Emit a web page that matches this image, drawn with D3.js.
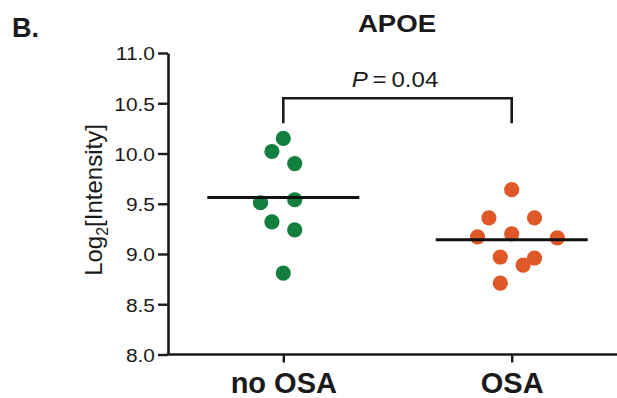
<!DOCTYPE html>
<html>
<head>
<meta charset="utf-8">
<script src="https://cdn.jsdelivr.net/npm/d3@7"></script>
<style>
  html, body { margin: 0; padding: 0; background: #fff; }
  text { font-family: "Liberation Sans", Arial, Helvetica, sans-serif; fill: #1a1a1a; }
</style>
</head>
<body>
<svg id="chart" width="617" height="398"></svg>
<script>
// ---- data ----
const categories = ["no OSA", "OSA"];
const noOsaValues = [10.15, 10.02, 9.90, 9.51, 9.54, 9.32, 9.24, 8.81];
const noOsaSlots  = [0, -1, 1, -2, 1, -1, 1, 0];
const osaValues   = [9.64, 9.36, 9.36, 9.17, 9.20, 9.16, 8.97, 8.96, 8.89, 8.71];
const osaSlots    = [0, -2, 2, -3, 0, 4, -1, 2, 1, -1];
const yTicks = [8.0, 8.5, 9.0, 9.5, 10.0, 10.5, 11.0];
const title = "APOE";
const panelLabel = "B.";
const pLabel = "0.04";
const colors = ["#137f3e", "#de5828"];

// ---- layout ----
const svg = d3.select("#chart");
const axisX0 = 168, axisX1 = 617;
const y = d3.scaleLinear().domain([8, 11]).range([354.5, 53]);
const x = d3.scalePoint().domain(categories).range([283.3, 511.7]);
const slot = d3.scaleLinear().domain([0, 1]).range([0, 11.4]);
const ink = "#1a1a1a";

function stretchText(sel, sx) {
  sel.each(function () {
    const t = d3.select(this);
    const tx = +t.attr("x"), ty = +t.attr("y");
    t.attr("x", 0).attr("y", 0)
     .attr("transform", `translate(${tx},${ty}) scale(${sx},1)`);
  });
}

// Y axis
const yAxis = svg.append("g")
  .attr("transform", `translate(${axisX0},0)`)
  .call(d3.axisLeft(y).tickValues(yTicks).tickFormat(d3.format(".1f")).tickSize(10).tickSizeOuter(0).tickPadding(3));
yAxis.select(".domain").attr("stroke", ink).attr("stroke-width", 2.6);
yAxis.selectAll(".tick line").attr("stroke", ink).attr("stroke-width", 2.4);
yAxis.selectAll(".tick text")
  .attr("font-size", 19).attr("font-family", null).attr("fill", ink)
  .attr("dy", "0.36em")
  .each(function () {
    const t = d3.select(this);
    const tx = +t.attr("x");
    t.attr("x", null).attr("transform", `translate(${tx},0) scale(1.1,1)`);
  });

// X axis
const xAxis = svg.append("g")
  .attr("transform", `translate(0,${y(8)})`)
  .call(d3.axisBottom(x).tickSize(8).tickSizeOuter(0).tickPadding(10));
xAxis.select(".domain").remove();
xAxis.append("line").attr("x1", axisX0 - 1.3).attr("x2", axisX1).attr("y1", 0).attr("y2", 0)
  .attr("stroke", ink).attr("stroke-width", 2.6);
xAxis.selectAll(".tick line").attr("stroke", ink).attr("stroke-width", 2.4);
xAxis.selectAll(".tick text")
  .attr("font-size", 29).attr("font-weight", "bold").attr("font-family", null).attr("fill", ink)
  .attr("dy", null).attr("y", 38);

// Y label
svg.append("text")
  .attr("transform", `translate(102,200) rotate(-90)`)
  .attr("text-anchor", "middle").attr("font-size", 24)
  .call(t => {
    t.append("tspan").text("Log");
    t.append("tspan").attr("font-size", 16).attr("dy", 6).text("2");
    t.append("tspan").attr("dy", -6).text("[Intensity]");
  });

// Title and panel label
svg.append("text").attr("x", 397).attr("y", 32).attr("text-anchor", "middle")
  .attr("font-size", 23).attr("font-weight", "bold").text(title)
  .call(stretchText, 1.2);
svg.append("text").attr("x", 12).attr("y", 37)
  .attr("font-size", 27).attr("font-weight", "bold").text(panelLabel);

// Significance bracket
const bTop = y(10.55), bBot = y(10.30);
svg.append("path")
  .attr("d", `M${x(categories[0])},${bBot}V${bTop}H${x(categories[1])}V${bBot}`)
  .attr("fill", "none").attr("stroke", ink).attr("stroke-width", 2.6);
svg.append("text").attr("x", 395).attr("y", 87).attr("text-anchor", "middle")
  .attr("font-size", 21.5)
  .call(t => {
    t.append("tspan").attr("font-style", "italic").text("P");
    t.append("tspan").text("\u2009=\u2009" + pLabel);
  })
  .call(stretchText, 1.12);

// Groups
const groups = [
  { cat: categories[0], values: noOsaValues, slots: noOsaSlots, color: colors[0] },
  { cat: categories[1], values: osaValues, slots: osaSlots, color: colors[1] }
];
groups.forEach(g => {
  const cx = x(g.cat);
  const m = d3.mean(g.values);
  svg.append("g").selectAll("circle")
    .data(g.values.map((v, i) => ({ v, s: g.slots[i] })))
    .join("circle")
    .attr("cx", d => cx + slot(d.s))
    .attr("cy", d => y(d.v))
    .attr("r", 7.6)
    .attr("fill", g.color);
  svg.append("line")
    .attr("x1", cx - 76).attr("x2", cx + 76)
    .attr("y1", y(m)).attr("y2", y(m))
    .attr("stroke", "#111").attr("stroke-width", 3);
});
</script>
</body>
</html>
